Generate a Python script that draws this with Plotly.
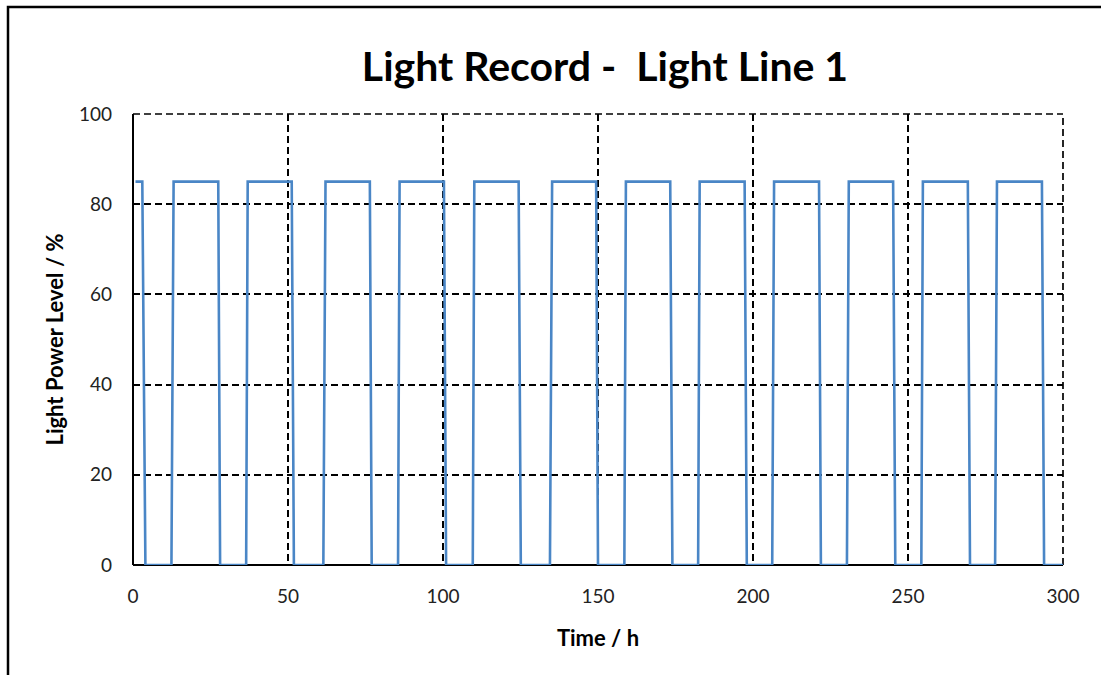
import plotly.graph_objects as go

# Light power record: time (h) and level (%) at each recorded point
time_h = [0.8, 3.0, 4.0, 12.4, 13.1, 27.5, 28.1, 36.5, 37.0, 51.2, 51.9,
          61.4, 62.1, 76.4, 77.0, 85.5, 86.0, 100.3, 101.0, 109.6, 110.1,
          124.4, 125.1, 134.5, 135.2, 149.4, 150.0, 158.5, 159.0, 173.3, 174.0,
          182.3, 182.8, 197.3, 198.0, 206.2, 206.8, 221.3, 221.9, 230.3, 230.9,
          245.2, 245.9, 254.3, 254.8, 269.3, 270.0, 278.1, 278.7, 293.2, 293.9,
          300.0]
power_pct = [85, 85, 0, 0, 85, 85, 0, 0, 85, 85, 0,
             0, 85, 85, 0, 0, 85, 85, 0, 0, 85,
             85, 0, 0, 85, 85, 0, 0, 85, 85, 0,
             0, 85, 85, 0, 0, 85, 85, 0, 0, 85,
             85, 0, 0, 85, 85, 0, 0, 85, 85, 0,
             0]

x_ticks = [0, 50, 100, 150, 200, 250, 300]
y_ticks = [0, 20, 40, 60, 80, 100]

W, H = 1101, 675
ML, MR, MT, MB = 133, 38, 114, 110
PW, PH = W - ML - MR, H - MT - MB


def px_to_paper_x(px):
    return (px - ML) / PW


def px_to_paper_y(py):
    return (H - MB - py) / PH


FONT = "Lato, Open Sans, sans-serif"
GRID_DASH = "7px,4px"
GRID_W = 1.7

fig = go.Figure()
fig.add_trace(go.Scatter(
    x=time_h, y=power_pct, mode="lines",
    line=dict(color="#4A86C6", width=2.6),
    showlegend=False, hoverinfo="x+y",
))

fig.update_layout(
    width=W, height=H,
    margin=dict(l=ML, r=MR, t=MT, b=MB),
    paper_bgcolor="white", plot_bgcolor="white",
    font=dict(family=FONT, color="#222222", size=19),
    title=dict(
        text="<b>Light Record -  Light Line 1</b>",
        font=dict(family=FONT, size=41, color="#000000"),
        x=px_to_paper_x(605), xref="paper", xanchor="center",
        y=1 - 67 / H, yref="container", yanchor="middle",
    ),
    xaxis=dict(
        range=[0, 300], tickvals=x_ticks,
        showgrid=True, gridcolor="#000000", gridwidth=GRID_W, griddash=GRID_DASH,
        showline=False, zeroline=False,
        ticks="", ticklabelstandoff=18,
        tickfont=dict(family=FONT, size=19, color="#222222"),
        title=dict(text="<b>Time / h</b>", standoff=24,
                   font=dict(family=FONT, size=22, color="#000000")),
    ),
    yaxis=dict(
        range=[0, 100], tickvals=y_ticks,
        showgrid=True, gridcolor="#000000", gridwidth=GRID_W, griddash=GRID_DASH,
        showline=False, zeroline=False,
        ticks="", ticklabelstandoff=20,
        tickfont=dict(family=FONT, size=19, color="#222222"),
        title=dict(text="<b>Light Power Level / %</b>", standoff=9,
                   font=dict(family=FONT, size=22, color="#000000")),
    ),
    shapes=[
        # dashed gridlines on the top and right edges of the plot area
        dict(type="line", xref="paper", yref="paper", x0=0, x1=1, y0=1, y1=1,
             line=dict(color="#000000", width=GRID_W, dash=GRID_DASH), layer="below"),
        dict(type="line", xref="paper", yref="paper", x0=1, x1=1, y0=0, y1=1,
             line=dict(color="#000000", width=GRID_W, dash=GRID_DASH), layer="below"),
        # solid axis lines along x=0 and y=0
        dict(type="line", xref="paper", yref="paper", x0=0, x1=0, y0=0, y1=1,
             line=dict(color="#000000", width=2)),
        dict(type="line", xref="paper", yref="paper", x0=0, x1=1, y0=0, y1=0,
             line=dict(color="#000000", width=2), layer="below"),
        # outer chart frame
        dict(type="rect", xref="paper", yref="paper",
             x0=px_to_paper_x(8), x1=px_to_paper_x(W + 20),
             y0=px_to_paper_y(H + 20), y1=px_to_paper_y(7),
             line=dict(color="#000000", width=2.5), layer="below"),
    ],
)

fig.write_html("out.html")
